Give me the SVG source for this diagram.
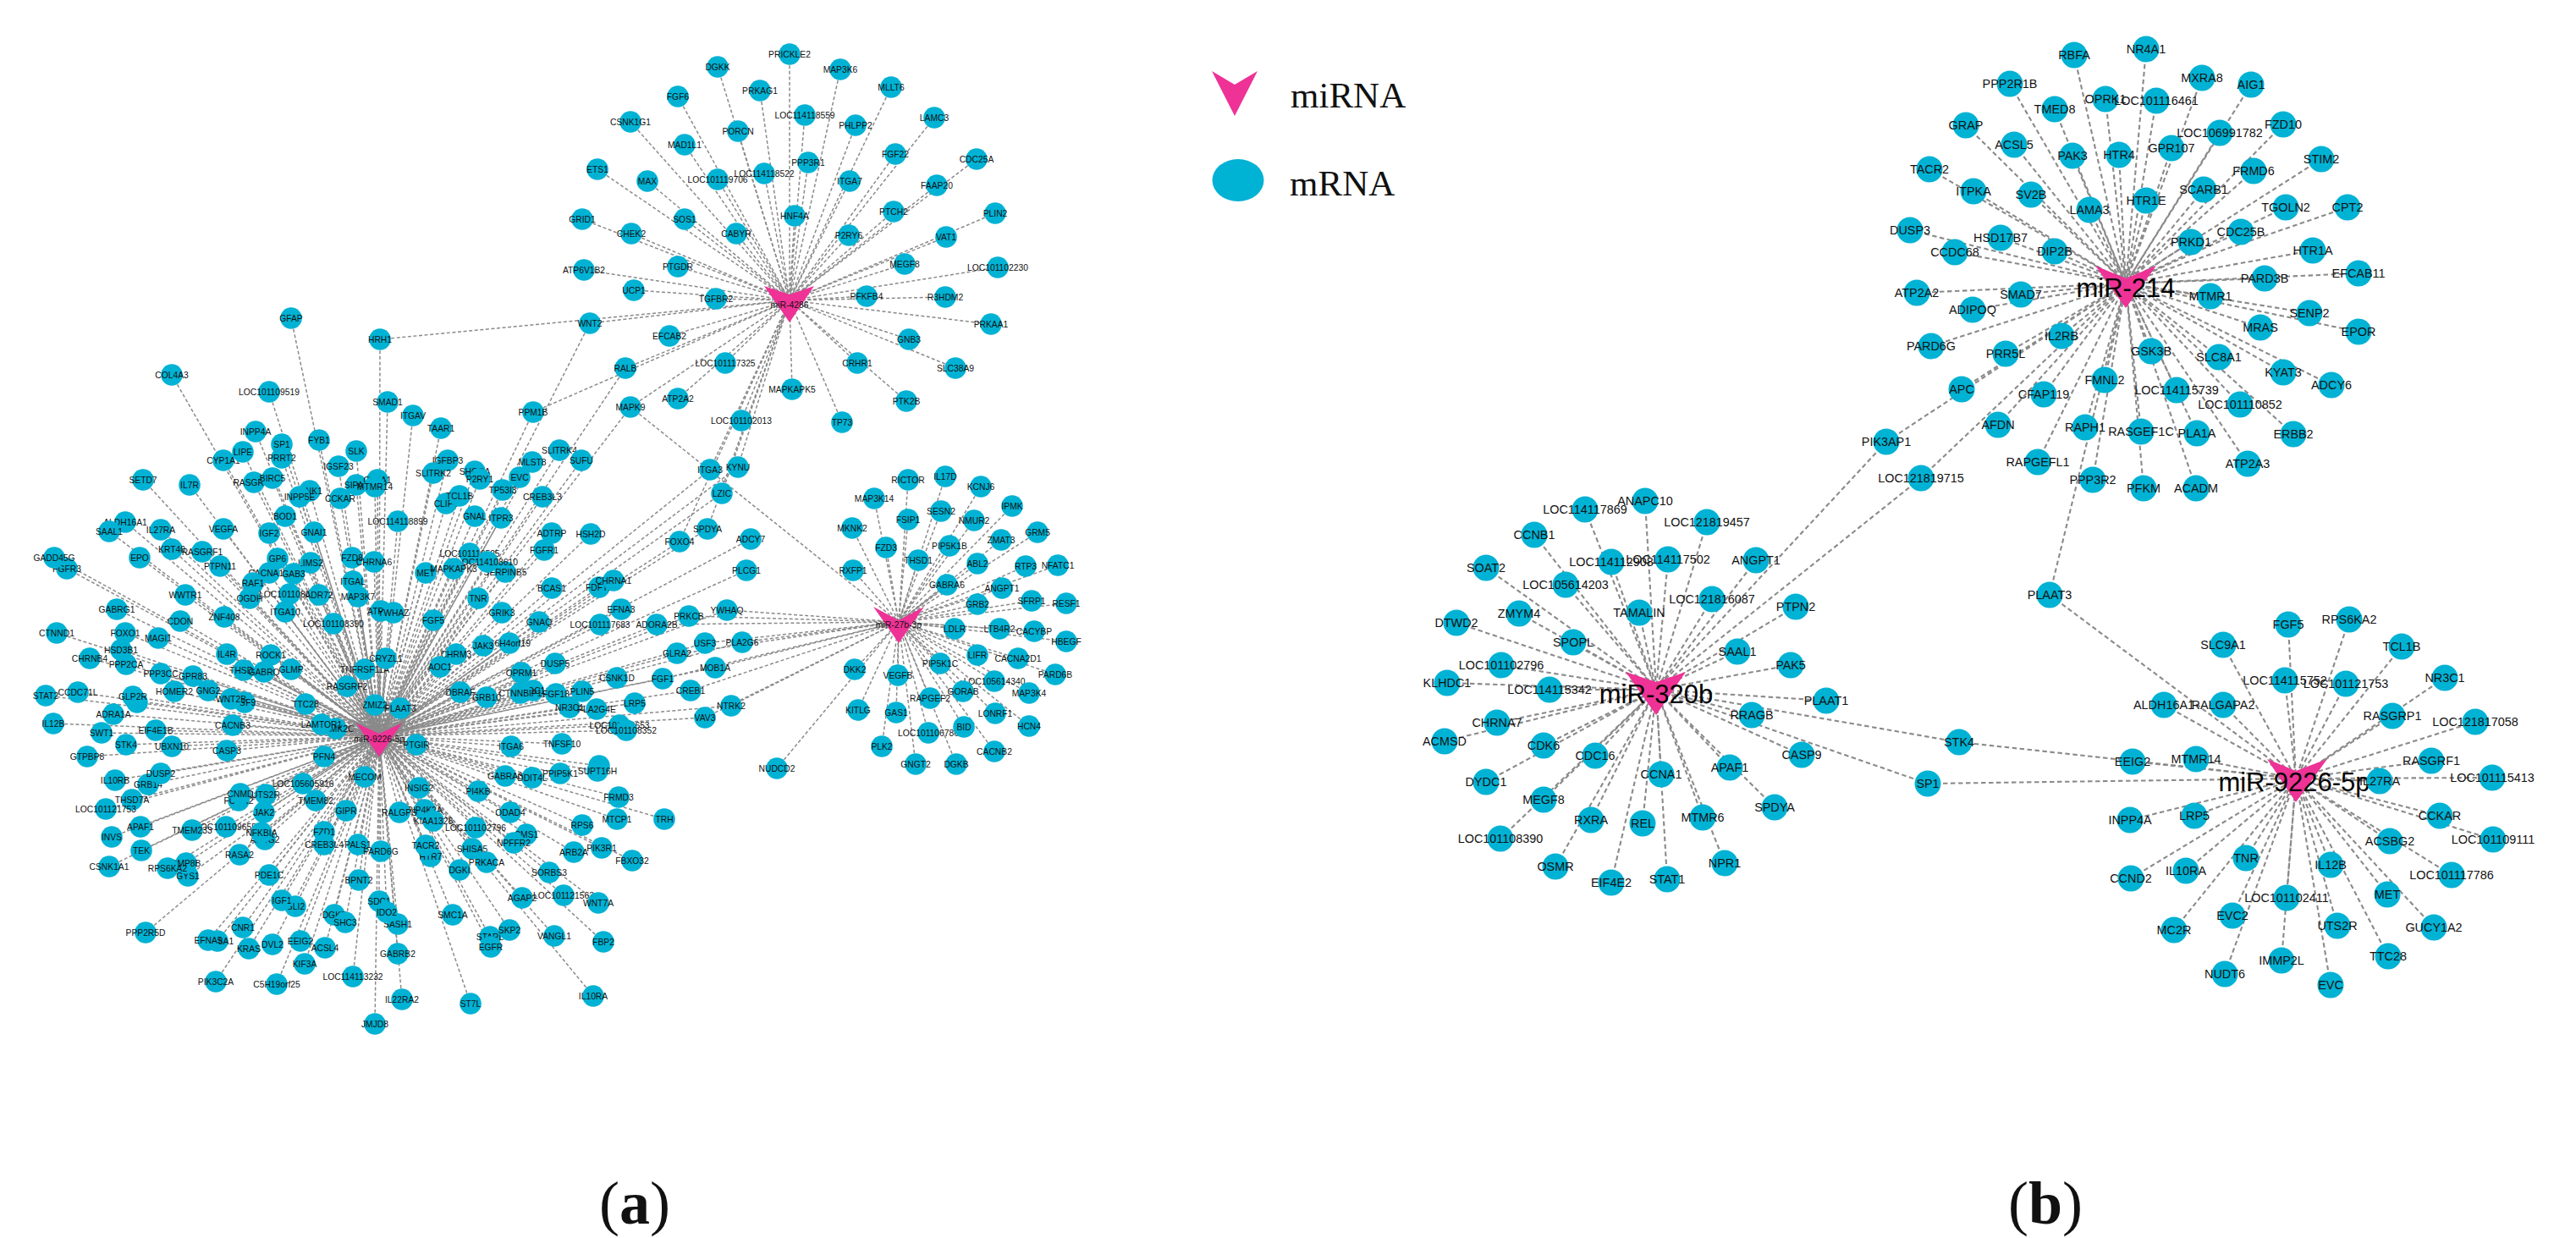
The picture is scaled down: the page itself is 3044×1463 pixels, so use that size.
<svg xmlns="http://www.w3.org/2000/svg" width="3044" height="1463" viewBox="0 0 3044 1463">
<style>
svg{background:#fff}
path{fill:none}
#connectors path{stroke:#8a8a8a}
.ea{stroke-width:1.5;stroke-dasharray:4 2.6}
.eb{stroke-width:2.1;stroke-dasharray:5.5 3.5}
circle,ellipse{fill:#00b2d4}
.hub polygon,polygon{fill:#ee3296}
text{font-family:"Liberation Sans",Arial,sans-serif;text-anchor:middle;dominant-baseline:central;fill:#111}
.a circle{r:12.8px}
.a text{font-size:10.3px}
.b circle{r:15.5px}
.b text{font-size:14.4px}
.a .hl{font-size:10.4px}
.b .hl{font-size:31px;fill:#000}
.lg{font-family:"Liberation Serif","Times New Roman",serif;font-size:43px;text-anchor:start;dominant-baseline:auto;fill:#111}
.cap{font-family:"Liberation Serif","Times New Roman",serif;font-size:72px;text-anchor:middle;dominant-baseline:auto;fill:#111}
.cap tspan{font-weight:bold}
#h9a polygon{stroke:#8a8a8a;stroke-width:2}
</style>
<g id="connectors">
<g class="ea">
<path d="M933 64L933 355"/><path d="M848 79L933 355"/><path d="M993 82L933 355"/><path d="M1053 103L933 355"/><path d="M898 107L933 355"/><path d="M801 114L933 355"/><path d="M951 136L933 355"/><path d="M1104 139L933 355"/><path d="M745 144L933 355"/><path d="M1011 148L933 355"/><path d="M872 155L933 355"/><path d="M809 171L933 355"/><path d="M1058 182L933 355"/><path d="M1154 188L933 355"/><path d="M955 192L933 355"/><path d="M706 200L933 355"/><path d="M903 205L933 355"/><path d="M848 212L933 355"/><path d="M1004 214L933 355"/><path d="M765 214L933 355"/><path d="M1107 219L933 355"/><path d="M1056 250L933 355"/><path d="M1176 252L933 355"/><path d="M939 255L933 355"/><path d="M809 259L933 355"/><path d="M688 259L933 355"/><path d="M870 276L933 355"/><path d="M746 276L933 355"/><path d="M1003 278L933 355"/><path d="M1118 280L933 355"/><path d="M1069 312L933 355"/><path d="M801 315L933 355"/><path d="M1179 316L933 355"/><path d="M690 319L933 355"/><path d="M749 343L933 355"/><path d="M1024 350L933 355"/><path d="M1117 351L933 355"/><path d="M846 353L933 355"/><path d="M697 382L933 355"/><path d="M1171 383L933 355"/><path d="M791 397L933 355"/><path d="M1074 401L933 355"/><path d="M857 429L933 355"/><path d="M1013 429L933 355"/><path d="M1129 435L933 355"/><path d="M739 435L933 355"/><path d="M936 460L933 355"/><path d="M801 471L933 355"/><path d="M1071 474L933 355"/><path d="M745 481L933 355"/><path d="M876 497L933 355"/><path d="M995 499L933 355"/><path d="M872 552L933 355"/><path d="M839 555L933 355"/><path d="M853 583L933 355"/><path d="M836 625L933 355"/><path d="M803 640L933 355"/><path d="M449 401L933 355"/><path d="M630 487L933 355"/>
<path d="M1073 567L1062 735"/><path d="M1117 563L1062 735"/><path d="M1159 575L1062 735"/><path d="M1033 589L1062 735"/><path d="M1196 598L1062 735"/><path d="M1112 604L1062 735"/><path d="M1073 614L1062 735"/><path d="M1151 615L1062 735"/><path d="M1007 624L1062 735"/><path d="M1226 629L1062 735"/><path d="M1183 638L1062 735"/><path d="M1122 645L1062 735"/><path d="M1047 647L1062 735"/><path d="M1085 662L1062 735"/><path d="M1155 666L1062 735"/><path d="M1212 669L1062 735"/><path d="M1250 668L1062 735"/><path d="M1008 674L1062 735"/><path d="M1119 691L1062 735"/><path d="M1184 695L1062 735"/><path d="M1155 714L1062 735"/><path d="M1219 710L1062 735"/><path d="M1260 713L1062 735"/><path d="M1128 743L1062 735"/><path d="M1181 743L1062 735"/><path d="M1222 746L1062 735"/><path d="M1260 758L1062 735"/><path d="M1155 774L1062 735"/><path d="M1203 778L1062 735"/><path d="M1111 784L1062 735"/><path d="M1010 791L1062 735"/><path d="M1061 798L1062 735"/><path d="M1247 797L1062 735"/><path d="M1175 805L1062 735"/><path d="M1138 817L1062 735"/><path d="M1216 819L1062 735"/><path d="M1099 825L1062 735"/><path d="M1014 839L1062 735"/><path d="M1059 842L1062 735"/><path d="M1176 843L1062 735"/><path d="M1216 858L1062 735"/><path d="M1139 859L1062 735"/><path d="M1097 866L1062 735"/><path d="M1042 882L1062 735"/><path d="M1175 888L1062 735"/><path d="M1082 903L1062 735"/><path d="M1130 903L1062 735"/><path d="M918 908L1062 735"/><path d="M745 481L1062 735"/><path d="M859 721L1062 735"/><path d="M814 728L1062 735"/><path d="M776 738L1062 735"/><path d="M833 760L1062 735"/><path d="M877 759L1062 735"/><path d="M800 773L1062 735"/><path d="M845 789L1062 735"/><path d="M783 802L1062 735"/><path d="M816 816L1062 735"/><path d="M864 834L1062 735"/><path d="M833 848L1062 735"/>
<path d="M697 382L448 870"/><path d="M739 435L448 870"/><path d="M745 481L448 870"/><path d="M839 555L448 870"/><path d="M872 552L448 870"/><path d="M853 583L448 870"/><path d="M836 625L448 870"/><path d="M803 640L448 870"/><path d="M887 637L448 870"/><path d="M882 674L448 870"/><path d="M859 721L448 870"/><path d="M814 728L448 870"/><path d="M776 738L448 870"/><path d="M833 760L448 870"/><path d="M877 759L448 870"/><path d="M800 773L448 870"/><path d="M845 789L448 870"/><path d="M783 802L448 870"/><path d="M816 816L448 870"/><path d="M864 834L448 870"/><path d="M833 848L448 870"/>
<path d="M344 376L448 870"/><path d="M449 401L448 870"/><path d="M203 443L448 870"/><path d="M318 463L448 870"/><path d="M458 475L448 870"/><path d="M488 491L448 870"/><path d="M521 506L448 870"/><path d="M630 487L448 870"/><path d="M302 510L448 870"/><path d="M377 520L448 870"/><path d="M421 533L448 870"/><path d="M264 544L448 870"/><path d="M287 534L448 870"/><path d="M333 525L448 870"/><path d="M333 541L448 870"/><path d="M400 551L448 870"/><path d="M300 570L448 870"/><path d="M322 565L448 870"/><path d="M169 567L448 870"/><path d="M224 573L448 870"/><path d="M366 580L448 870"/><path d="M354 587L448 870"/><path d="M421 573L448 870"/><path d="M446 567L448 870"/><path d="M443 575L448 870"/><path d="M402 589L448 870"/><path d="M337 610L448 870"/><path d="M371 629L448 870"/><path d="M318 630L448 870"/><path d="M148 617L448 870"/><path d="M190 626L448 870"/><path d="M264 625L448 870"/><path d="M129 628L448 870"/><path d="M203 649L448 870"/><path d="M239 652L448 870"/><path d="M165 659L448 870"/><path d="M79 672L448 870"/><path d="M64 659L448 870"/><path d="M416 659L448 870"/><path d="M328 660L448 870"/><path d="M260 669L448 870"/><path d="M367 665L448 870"/><path d="M318 677L448 870"/><path d="M347 678L448 870"/><path d="M299 689L448 870"/><path d="M417 687L448 870"/><path d="M219 703L448 870"/><path d="M295 707L448 870"/><path d="M342 702L448 870"/><path d="M377 703L448 870"/><path d="M423 705L448 870"/><path d="M138 720L448 870"/><path d="M265 729L448 870"/><path d="M337 723L448 870"/><path d="M394 737L448 870"/><path d="M213 734L448 870"/><path d="M67 748L448 870"/><path d="M148 748L448 870"/><path d="M187 754L448 870"/><path d="M143 768L448 870"/><path d="M268 773L448 870"/><path d="M320 774L448 870"/><path d="M106 778L448 870"/><path d="M149 785L448 870"/><path d="M344 791L448 870"/><path d="M288 792L448 870"/><path d="M312 794L448 870"/><path d="M190 796L448 870"/><path d="M228 799L448 870"/><path d="M431 791L448 870"/><path d="M410 811L448 870"/><path d="M246 816L448 870"/><path d="M206 817L448 870"/><path d="M273 826L448 870"/><path d="M289 830L448 870"/><path d="M54 822L448 870"/><path d="M92 818L448 870"/><path d="M157 823L448 870"/><path d="M162 830L448 870"/><path d="M361 832L448 870"/><path d="M443 833L448 870"/><path d="M473 837L448 870"/><path d="M134 844L448 870"/><path d="M380 856L448 870"/><path d="M397 861L448 870"/><path d="M63 855L448 870"/><path d="M275 857L448 870"/><path d="M120 866L448 870"/><path d="M184 863L448 870"/><path d="M149 880L448 870"/><path d="M203 882L448 870"/><path d="M268 887L448 870"/><path d="M383 894L448 870"/><path d="M103 894L448 870"/><path d="M431 918L448 870"/><path d="M190 914L448 870"/><path d="M136 922L448 870"/><path d="M175 927L448 870"/><path d="M358 926L448 870"/><path d="M314 939L448 870"/><path d="M284 938L448 870"/><path d="M282 946L448 870"/><path d="M156 945L448 870"/><path d="M373 946L448 870"/><path d="M409 958L448 870"/><path d="M125 956L448 870"/><path d="M312 960L448 870"/><path d="M267 977L448 870"/><path d="M166 977L448 870"/><path d="M227 981L448 870"/><path d="M309 984L448 870"/><path d="M132 989L448 870"/><path d="M383 983L448 870"/><path d="M313 992L448 870"/><path d="M383 998L448 870"/><path d="M423 998L448 870"/><path d="M167 1005L448 870"/><path d="M283 1010L448 870"/><path d="M220 1020L448 870"/><path d="M198 1026L448 870"/><path d="M129 1024L448 870"/><path d="M222 1035L448 870"/><path d="M318 1034L448 870"/><path d="M424 1040L448 870"/><path d="M333 1064L448 870"/><path d="M349 1071L448 870"/><path d="M448 1065L448 870"/><path d="M457 1078L448 870"/><path d="M470 1092L448 870"/><path d="M395 1081L448 870"/><path d="M408 1090L448 870"/><path d="M287 1096L448 870"/><path d="M172 1102L448 870"/><path d="M246 1111L448 870"/><path d="M257 1112L448 870"/><path d="M294 1121L448 870"/><path d="M322 1116L448 870"/><path d="M355 1112L448 870"/><path d="M384 1120L448 870"/><path d="M470 1127L448 870"/><path d="M360 1139L448 870"/><path d="M417 1154L448 870"/><path d="M255 1160L448 870"/><path d="M327 1163L448 870"/><path d="M475 1181L448 870"/><path d="M443 1210L448 870"/><path d="M556 1186L448 870"/>
<path d="M492 880L448 870"/><path d="M604 882L448 870"/><path d="M664 879L448 870"/><path d="M706 911L448 870"/><path d="M708 905L448 870"/><path d="M662 914L448 870"/><path d="M629 919L448 870"/><path d="M597 917L448 870"/><path d="M495 931L448 870"/><path d="M565 935L448 870"/><path d="M731 942L448 870"/><path d="M603 960L448 870"/><path d="M502 957L448 870"/><path d="M729 968L448 870"/><path d="M785 968L448 870"/><path d="M512 970L448 870"/><path d="M472 960L448 870"/><path d="M688 975L448 870"/><path d="M562 978L448 870"/><path d="M622 986L448 870"/><path d="M607 996L448 870"/><path d="M711 1002L448 870"/><path d="M503 999L448 870"/><path d="M509 1012L448 870"/><path d="M558 1003L448 870"/><path d="M678 1007L448 870"/><path d="M450 1006L448 870"/><path d="M747 1017L448 870"/><path d="M575 1019L448 870"/><path d="M543 1028L448 870"/><path d="M649 1031L448 870"/><path d="M617 1061L448 870"/><path d="M666 1058L448 870"/><path d="M707 1067L448 870"/><path d="M535 1081L448 870"/><path d="M602 1099L448 870"/><path d="M579 1107L448 870"/><path d="M655 1106L448 870"/><path d="M580 1119L448 870"/><path d="M713 1113L448 870"/><path d="M701 1177L448 870"/>
<path d="M661 532L448 870"/><path d="M687 544L448 870"/><path d="M529 544L448 870"/><path d="M629 546L448 870"/><path d="M512 559L448 870"/><path d="M561 557L448 870"/><path d="M614 564L448 870"/><path d="M567 566L448 870"/><path d="M594 579L448 870"/><path d="M543 586L448 870"/><path d="M641 587L448 870"/><path d="M527 595L448 870"/><path d="M561 610L448 870"/><path d="M592 612L448 870"/><path d="M470 616L448 870"/><path d="M652 630L448 870"/><path d="M698 631L448 870"/><path d="M643 650L448 870"/><path d="M555 654L448 870"/><path d="M576 664L448 870"/><path d="M597 676L448 870"/><path d="M442 664L448 870"/><path d="M503 677L448 870"/><path d="M536 672L448 870"/><path d="M652 695L448 870"/><path d="M708 694L448 870"/><path d="M725 686L448 870"/><path d="M565 707L448 870"/><path d="M734 720L448 870"/><path d="M450 722L448 870"/><path d="M465 724L448 870"/><path d="M593 724L448 870"/><path d="M512 733L448 870"/><path d="M637 735L448 870"/><path d="M709 738L448 870"/><path d="M602 760L448 870"/><path d="M571 763L448 870"/><path d="M539 773L448 870"/><path d="M456 778L448 870"/><path d="M520 788L448 870"/><path d="M656 784L448 870"/><path d="M616 795L448 870"/><path d="M729 801L448 870"/><path d="M544 818L448 870"/><path d="M575 824L448 870"/><path d="M615 819L448 870"/><path d="M630 816L448 870"/><path d="M657 820L448 870"/><path d="M688 817L448 870"/><path d="M673 836L448 870"/><path d="M705 838L448 870"/><path d="M750 831L448 870"/><path d="M732 857L448 870"/><path d="M740 863L448 870"/>
</g>
<g class="eb">
<path d="M2451 65L2512 335"/><path d="M2536 58L2512 335"/><path d="M2375 99L2512 335"/><path d="M2488 117L2512 335"/><path d="M2548 119L2512 335"/><path d="M2428 129L2512 335"/><path d="M2323 148L2512 335"/><path d="M2380 171L2512 335"/><path d="M2449 184L2512 335"/><path d="M2504 183L2512 335"/><path d="M2566 175L2512 335"/><path d="M2280 200L2512 335"/><path d="M2332 226L2512 335"/><path d="M2400 230L2512 335"/><path d="M2469 248L2512 335"/><path d="M2536 237L2512 335"/><path d="M2257 272L2512 335"/><path d="M2364 281L2512 335"/><path d="M2310 298L2512 335"/><path d="M2428 297L2512 335"/><path d="M2265 346L2512 335"/><path d="M2388 348L2512 335"/><path d="M2331 366L2512 335"/><path d="M2282 409L2512 335"/><path d="M2436 397L2512 335"/><path d="M2370 418L2512 335"/><path d="M2318 460L2512 335"/><path d="M2487 449L2512 335"/><path d="M2415 466L2512 335"/><path d="M2542 415L2512 335"/><path d="M2361 502L2512 335"/><path d="M2572 461L2512 335"/><path d="M2464 505L2512 335"/><path d="M2530 510L2512 335"/><path d="M2229 522L2512 335"/><path d="M2408 546L2512 335"/><path d="M2473 567L2512 335"/><path d="M2533 577L2512 335"/><path d="M2270 565L2512 335"/><path d="M2602 92L2512 335"/><path d="M2660 100L2512 335"/><path d="M2623 157L2512 335"/><path d="M2698 147L2512 335"/><path d="M2663 202L2512 335"/><path d="M2743 188L2512 335"/><path d="M2604 224L2512 335"/><path d="M2701 245L2512 335"/><path d="M2774 245L2512 335"/><path d="M2648 274L2512 335"/><path d="M2589 286L2512 335"/><path d="M2733 296L2512 335"/><path d="M2676 329L2512 335"/><path d="M2787 323L2512 335"/><path d="M2612 350L2512 335"/><path d="M2729 370L2512 335"/><path d="M2671 387L2512 335"/><path d="M2787 392L2512 335"/><path d="M2622 422L2512 335"/><path d="M2698 440L2512 335"/><path d="M2755 455L2512 335"/><path d="M2647 478L2512 335"/><path d="M2710 513L2512 335"/><path d="M2596 512L2512 335"/><path d="M2656 548L2512 335"/><path d="M2595 577L2512 335"/><path d="M2422 703L2512 335"/>
<path d="M2229 522L1957 815"/><path d="M2270 565L1957 815"/><path d="M1944 592L1957 815"/><path d="M1873 602L1957 815"/><path d="M2017 617L1957 815"/><path d="M1813 632L1957 815"/><path d="M1904 664L1957 815"/><path d="M1971 661L1957 815"/><path d="M2075 662L1957 815"/><path d="M1756 671L1957 815"/><path d="M1850 691L1957 815"/><path d="M2023 708L1957 815"/><path d="M1937 724L1957 815"/><path d="M2122 717L1957 815"/><path d="M1795 725L1957 815"/><path d="M1721 736L1957 815"/><path d="M1859 759L1957 815"/><path d="M2053 770L1957 815"/><path d="M2116 786L1957 815"/><path d="M1774 786L1957 815"/><path d="M1710 807L1957 815"/><path d="M1831 815L1957 815"/><path d="M2158 828L1957 815"/><path d="M2070 845L1957 815"/><path d="M1769 854L1957 815"/><path d="M1707 876L1957 815"/><path d="M1824 881L1957 815"/><path d="M2129 892L1957 815"/><path d="M1885 893L1957 815"/><path d="M2044 907L1957 815"/><path d="M1963 915L1957 815"/><path d="M1756 924L1957 815"/><path d="M2278 926L1957 815"/><path d="M2315 877L1957 815"/><path d="M1824 945L1957 815"/><path d="M2097 954L1957 815"/><path d="M1880 969L1957 815"/><path d="M1941 973L1957 815"/><path d="M2012 966L1957 815"/><path d="M1773 991L1957 815"/><path d="M2038 1020L1957 815"/><path d="M1838 1024L1957 815"/><path d="M1970 1039L1957 815"/><path d="M1904 1043L1957 815"/>
<path d="M2422 703L2713 920"/><path d="M2315 877L2713 920"/><path d="M2278 926L2713 920"/><path d="M2704 738L2713 920"/><path d="M2776 732L2713 920"/><path d="M2627 762L2713 920"/><path d="M2838 764L2713 920"/><path d="M2889 801L2713 920"/><path d="M2700 804L2713 920"/><path d="M2772 808L2713 920"/><path d="M2557 833L2713 920"/><path d="M2627 833L2713 920"/><path d="M2827 846L2713 920"/><path d="M2925 853L2713 920"/><path d="M2520 900L2713 920"/><path d="M2595 897L2713 920"/><path d="M2873 899L2713 920"/><path d="M2812 923L2713 920"/><path d="M2945 919L2713 920"/><path d="M2517 969L2713 920"/><path d="M2593 964L2713 920"/><path d="M2883 964L2713 920"/><path d="M2946 992L2713 920"/><path d="M2824 994L2713 920"/><path d="M2654 1014L2713 920"/><path d="M2583 1029L2713 920"/><path d="M2518 1038L2713 920"/><path d="M2754 1022L2713 920"/><path d="M2897 1034L2713 920"/><path d="M2821 1057L2713 920"/><path d="M2702 1061L2713 920"/><path d="M2638 1082L2713 920"/><path d="M2762 1094L2713 920"/><path d="M2876 1096L2713 920"/><path d="M2569 1099L2713 920"/><path d="M2696 1135L2713 920"/><path d="M2822 1130L2713 920"/><path d="M2629 1151L2713 920"/><path d="M2754 1164L2713 920"/>
</g>
</g>
<g id="nodesA" class="a">
<g id="h4a"><polygon points="903,338 933,348 962,338 933,381"/><text class="hl" x="933" y="360">miR-4286</text></g>
<g id="h7a"><polygon points="1032,717 1062,733 1092,717 1062,760"/><text class="hl" x="1062" y="738">miR-27b-3p</text></g>
<g id="h9a"><polygon points="418,852 448,866 478,852 448,896"/><text class="hl" x="448" y="873">miR-9226-5p</text></g>
<g id="a1"><circle cx="933" cy="64"/><text x="933" y="64">PRICKLE2</text></g>
<g id="a2"><circle cx="848" cy="79"/><text x="848" y="79">DGKK</text></g>
<g id="a3"><circle cx="993" cy="82"/><text x="993" y="82">MAP3K6</text></g>
<g id="a4"><circle cx="1053" cy="103"/><text x="1053" y="103">MLLT6</text></g>
<g id="a5"><circle cx="898" cy="107"/><text x="898" y="107">PRKAG1</text></g>
<g id="a6"><circle cx="801" cy="114"/><text x="801" y="114">FGF6</text></g>
<g id="a7"><circle cx="951" cy="136"/><text x="951" y="136">LOC114118559</text></g>
<g id="a8"><circle cx="1104" cy="139"/><text x="1104" y="139">LAMC3</text></g>
<g id="a9"><circle cx="745" cy="144"/><text x="745" y="144">CSNK1G1</text></g>
<g id="a10"><circle cx="1011" cy="148"/><text x="1011" y="148">PHLPP2</text></g>
<g id="a11"><circle cx="872" cy="155"/><text x="872" y="155">PORCN</text></g>
<g id="a12"><circle cx="809" cy="171"/><text x="809" y="171">MAD1L1</text></g>
<g id="a13"><circle cx="1058" cy="182"/><text x="1058" y="182">FGF22</text></g>
<g id="a14"><circle cx="1154" cy="188"/><text x="1154" y="188">CDC25A</text></g>
<g id="a15"><circle cx="955" cy="192"/><text x="955" y="192">PPP3R1</text></g>
<g id="a16"><circle cx="706" cy="200"/><text x="706" y="200">ETS1</text></g>
<g id="a17"><circle cx="848" cy="212"/><text x="848" y="212">LOC101119706</text></g>
<g id="a18"><circle cx="903" cy="205"/><text x="903" y="205">LOC114118522</text></g>
<g id="a19"><circle cx="1004" cy="214"/><text x="1004" y="214">ITGA7</text></g>
<g id="a20"><circle cx="765" cy="214"/><text x="765" y="214">MAX</text></g>
<g id="a21"><circle cx="1107" cy="219"/><text x="1107" y="219">FAAP20</text></g>
<g id="a22"><circle cx="1056" cy="250"/><text x="1056" y="250">PTCH2</text></g>
<g id="a23"><circle cx="1176" cy="252"/><text x="1176" y="252">PLIN2</text></g>
<g id="a24"><circle cx="939" cy="255"/><text x="939" y="255">HNF4A</text></g>
<g id="a25"><circle cx="809" cy="259"/><text x="809" y="259">SOS1</text></g>
<g id="a26"><circle cx="688" cy="259"/><text x="688" y="259">GRID1</text></g>
<g id="a27"><circle cx="870" cy="276"/><text x="870" y="276">CABYR</text></g>
<g id="a28"><circle cx="746" cy="276"/><text x="746" y="276">CHEK2</text></g>
<g id="a29"><circle cx="1003" cy="278"/><text x="1003" y="278">P2RY6</text></g>
<g id="a30"><circle cx="1118" cy="280"/><text x="1118" y="280">VAT1</text></g>
<g id="a31"><circle cx="1069" cy="312"/><text x="1069" y="312">MEGF8</text></g>
<g id="a32"><circle cx="801" cy="315"/><text x="801" y="315">PTGDR</text></g>
<g id="a33"><circle cx="1179" cy="316"/><text x="1179" y="316">LOC101102230</text></g>
<g id="a34"><circle cx="690" cy="319"/><text x="690" y="319">ATP6V1B2</text></g>
<g id="a35"><circle cx="749" cy="343"/><text x="749" y="343">UCP1</text></g>
<g id="a36"><circle cx="1024" cy="350"/><text x="1024" y="350">PFKFB4</text></g>
<g id="a37"><circle cx="1117" cy="351"/><text x="1117" y="351">R3HDM2</text></g>
<g id="a38"><circle cx="846" cy="353"/><text x="846" y="353">TGFBR2</text></g>
<g id="a39"><circle cx="697" cy="382"/><text x="697" y="382">WNT2</text></g>
<g id="a40"><circle cx="1171" cy="383"/><text x="1171" y="383">PRKAA1</text></g>
<g id="a41"><circle cx="791" cy="397"/><text x="791" y="397">EFCAB2</text></g>
<g id="a42"><circle cx="1074" cy="401"/><text x="1074" y="401">GNB3</text></g>
<g id="a43"><circle cx="857" cy="429"/><text x="857" y="429">LOC101117325</text></g>
<g id="a44"><circle cx="1013" cy="429"/><text x="1013" y="429">CRHR1</text></g>
<g id="a45"><circle cx="1129" cy="435"/><text x="1129" y="435">SLC38A9</text></g>
<g id="a46"><circle cx="739" cy="435"/><text x="739" y="435">RALB</text></g>
<g id="a47"><circle cx="936" cy="460"/><text x="936" y="460">MAPKAPK5</text></g>
<g id="a48"><circle cx="801" cy="471"/><text x="801" y="471">ATP2A2</text></g>
<g id="a49"><circle cx="1071" cy="474"/><text x="1071" y="474">PTK2B</text></g>
<g id="a50"><circle cx="745" cy="481"/><text x="745" y="481">MAPK9</text></g>
<g id="a51"><circle cx="876" cy="497"/><text x="876" y="497">LOC101102013</text></g>
<g id="a52"><circle cx="995" cy="499"/><text x="995" y="499">TP73</text></g>
<g id="a53"><circle cx="872" cy="552"/><text x="872" y="552">KYNU</text></g>
<g id="a54"><circle cx="839" cy="555"/><text x="839" y="555">ITGA3</text></g>
<g id="a55"><circle cx="853" cy="583"/><text x="853" y="583">LZIC</text></g>
<g id="a56"><circle cx="836" cy="625"/><text x="836" y="625">SPDYA</text></g>
<g id="a57"><circle cx="803" cy="640"/><text x="803" y="640">FOXO4</text></g>
<g id="a58"><circle cx="887" cy="637"/><text x="887" y="637">ADCY7</text></g>
<g id="a59"><circle cx="882" cy="674"/><text x="882" y="674">PLCG1</text></g>
<g id="a60"><circle cx="859" cy="721"/><text x="859" y="721">YWHAQ</text></g>
<g id="a61"><circle cx="776" cy="738"/><text x="776" y="738">ADORA2B</text></g>
<g id="a62"><circle cx="814" cy="728"/><text x="814" y="728">PRKCB</text></g>
<g id="a63"><circle cx="833" cy="760"/><text x="833" y="760">USF3</text></g>
<g id="a64"><circle cx="877" cy="759"/><text x="877" y="759">PLA2G6</text></g>
<g id="a65"><circle cx="800" cy="772"/><text x="800" y="772">GLRA2</text></g>
<g id="a66"><circle cx="845" cy="789"/><text x="845" y="789">MOB1A</text></g>
<g id="a67"><circle cx="783" cy="802"/><text x="783" y="802">FGF1</text></g>
<g id="a68"><circle cx="816" cy="816"/><text x="816" y="816">CREB1</text></g>
<g id="a69"><circle cx="864" cy="834"/><text x="864" y="834">NTRK2</text></g>
<g id="a70"><circle cx="833" cy="848"/><text x="833" y="848">VAV3</text></g>
<g id="a71"><circle cx="918" cy="908"/><text x="918" y="908">NUDCD2</text></g>
<g id="a72"><circle cx="1073" cy="567"/><text x="1073" y="567">RICTOR</text></g>
<g id="a73"><circle cx="1117" cy="563"/><text x="1117" y="563">IL17D</text></g>
<g id="a74"><circle cx="1159" cy="575"/><text x="1159" y="575">KCNJ6</text></g>
<g id="a75"><circle cx="1033" cy="589"/><text x="1033" y="589">MAP3K14</text></g>
<g id="a76"><circle cx="1196" cy="598"/><text x="1196" y="598">IPMK</text></g>
<g id="a77"><circle cx="1112" cy="604"/><text x="1112" y="604">SESN2</text></g>
<g id="a78"><circle cx="1073" cy="614"/><text x="1073" y="614">FSIP1</text></g>
<g id="a79"><circle cx="1151" cy="615"/><text x="1151" y="615">NMUR2</text></g>
<g id="a80"><circle cx="1007" cy="624"/><text x="1007" y="624">MKNK2</text></g>
<g id="a81"><circle cx="1226" cy="629"/><text x="1226" y="629">GRM5</text></g>
<g id="a82"><circle cx="1183" cy="638"/><text x="1183" y="638">ZMAT3</text></g>
<g id="a83"><circle cx="1122" cy="645"/><text x="1122" y="645">PIP5K1B</text></g>
<g id="a84"><circle cx="1047" cy="647"/><text x="1047" y="647">FZD3</text></g>
<g id="a85"><circle cx="1085" cy="662"/><text x="1085" y="662">THSD1</text></g>
<g id="a86"><circle cx="1155" cy="666"/><text x="1155" y="666">ABL2</text></g>
<g id="a87"><circle cx="1212" cy="669"/><text x="1212" y="669">RTP3</text></g>
<g id="a88"><circle cx="1250" cy="668"/><text x="1250" y="668">NFATC1</text></g>
<g id="a89"><circle cx="1008" cy="674"/><text x="1008" y="674">RXFP1</text></g>
<g id="a90"><circle cx="1119" cy="691"/><text x="1119" y="691">GABRA6</text></g>
<g id="a91"><circle cx="1184" cy="695"/><text x="1184" y="695">ANGPT1</text></g>
<g id="a92"><circle cx="1155" cy="714"/><text x="1155" y="714">GRB2</text></g>
<g id="a93"><circle cx="1219" cy="710"/><text x="1219" y="710">SFRP1</text></g>
<g id="a94"><circle cx="1260" cy="713"/><text x="1260" y="713">RESF1</text></g>
<g id="a95"><circle cx="1128" cy="743"/><text x="1128" y="743">LDLR</text></g>
<g id="a96"><circle cx="1181" cy="743"/><text x="1181" y="743">LTB4R2</text></g>
<g id="a97"><circle cx="1222" cy="746"/><text x="1222" y="746">CACYBP</text></g>
<g id="a98"><circle cx="1260" cy="758"/><text x="1260" y="758">HBEGF</text></g>
<g id="a99"><circle cx="1155" cy="774"/><text x="1155" y="774">LIFR</text></g>
<g id="a100"><circle cx="1203" cy="778"/><text x="1203" y="778">CACNA2D1</text></g>
<g id="a101"><circle cx="1111" cy="784"/><text x="1111" y="784">PIP5K1C</text></g>
<g id="a102"><circle cx="1010" cy="791"/><text x="1010" y="791">DKK2</text></g>
<g id="a103"><circle cx="1061" cy="798"/><text x="1061" y="798">VEGFB</text></g>
<g id="a104"><circle cx="1247" cy="797"/><text x="1247" y="797">PARD6B</text></g>
<g id="a105"><circle cx="1175" cy="805"/><text x="1175" y="805">LOC105614340</text></g>
<g id="a106"><circle cx="1138" cy="817"/><text x="1138" y="817">GORAB</text></g>
<g id="a107"><circle cx="1216" cy="819"/><text x="1216" y="819">MAP3K4</text></g>
<g id="a108"><circle cx="1099" cy="825"/><text x="1099" y="825">RAPGEF2</text></g>
<g id="a109"><circle cx="1014" cy="839"/><text x="1014" y="839">KITLG</text></g>
<g id="a110"><circle cx="1059" cy="842"/><text x="1059" y="842">GAS1</text></g>
<g id="a111"><circle cx="1176" cy="843"/><text x="1176" y="843">LONRF1</text></g>
<g id="a112"><circle cx="1216" cy="858"/><text x="1216" y="858">HCN4</text></g>
<g id="a113"><circle cx="1097" cy="866"/><text x="1097" y="866">LOC101106786</text></g>
<g id="a114"><circle cx="1139" cy="859"/><text x="1139" y="859">BID</text></g>
<g id="a115"><circle cx="1042" cy="882"/><text x="1042" y="882">PLK2</text></g>
<g id="a116"><circle cx="1175" cy="888"/><text x="1175" y="888">CACNB2</text></g>
<g id="a117"><circle cx="1082" cy="903"/><text x="1082" y="903">GNGT2</text></g>
<g id="a118"><circle cx="1130" cy="903"/><text x="1130" y="903">DGKB</text></g>
<g id="a119"><circle cx="344" cy="376"/><text x="344" y="376">GFAP</text></g>
<g id="a120"><circle cx="449" cy="401"/><text x="449" y="401">HRH1</text></g>
<g id="a121"><circle cx="203" cy="443"/><text x="203" y="443">COL4A3</text></g>
<g id="a122"><circle cx="318" cy="463"/><text x="318" y="463">LOC101109519</text></g>
<g id="a123"><circle cx="458" cy="475"/><text x="458" y="475">SMAD1</text></g>
<g id="a124"><circle cx="488" cy="491"/><text x="488" y="491">ITGAV</text></g>
<g id="a125"><circle cx="521" cy="506"/><text x="521" y="506">TAAR1</text></g>
<g id="a126"><circle cx="630" cy="487"/><text x="630" y="487">PPM1B</text></g>
<g id="a127"><circle cx="302" cy="510"/><text x="302" y="510">INPP4A</text></g>
<g id="a128"><circle cx="377" cy="520"/><text x="377" y="520">FYB1</text></g>
<g id="a129"><circle cx="421" cy="533"/><text x="421" y="533">SLK</text></g>
<g id="a130"><circle cx="264" cy="544"/><text x="264" y="544">CYP1A1</text></g>
<g id="a131"><circle cx="287" cy="534"/><text x="287" y="534">LIPE</text></g>
<g id="a132"><circle cx="333" cy="525"/><text x="333" y="525">SP1</text></g>
<g id="a133"><circle cx="333" cy="541"/><text x="333" y="541">PRRT2</text></g>
<g id="a134"><circle cx="400" cy="551"/><text x="400" y="551">IGSF23</text></g>
<g id="a135"><circle cx="300" cy="570"/><text x="300" y="570">RASGRP3</text></g>
<g id="a136"><circle cx="322" cy="565"/><text x="322" y="565">BIRC5</text></g>
<g id="a137"><circle cx="169" cy="567"/><text x="169" y="567">SETD7</text></g>
<g id="a138"><circle cx="224" cy="573"/><text x="224" y="573">IL7R</text></g>
<g id="a139"><circle cx="366" cy="580"/><text x="366" y="580">PINK1</text></g>
<g id="a140"><circle cx="354" cy="587"/><text x="354" y="587">INPP5E</text></g>
<g id="a141"><circle cx="421" cy="573"/><text x="421" y="573">SIPA1</text></g>
<g id="a142"><circle cx="446" cy="567"/><text x="446" y="567">CLCA1</text></g>
<g id="a143"><circle cx="443" cy="575"/><text x="443" y="575">MTMR14</text></g>
<g id="a144"><circle cx="402" cy="589"/><text x="402" y="589">CCKAR</text></g>
<g id="a145"><circle cx="337" cy="610"/><text x="337" y="610">BOD1</text></g>
<g id="a146"><circle cx="371" cy="629"/><text x="371" y="629">GNAI1</text></g>
<g id="a147"><circle cx="318" cy="630"/><text x="318" y="630">IGF2</text></g>
<g id="a148"><circle cx="148" cy="617"/><text x="148" y="617">ALDH16A1</text></g>
<g id="a149"><circle cx="190" cy="626"/><text x="190" y="626">IL27RA</text></g>
<g id="a150"><circle cx="264" cy="625"/><text x="264" y="625">VEGFA</text></g>
<g id="a151"><circle cx="129" cy="628"/><text x="129" y="628">SAAL1</text></g>
<g id="a152"><circle cx="203" cy="649"/><text x="203" y="649">KRT40</text></g>
<g id="a153"><circle cx="239" cy="652"/><text x="239" y="652">RASGRF1</text></g>
<g id="a154"><circle cx="165" cy="659"/><text x="165" y="659">EPO</text></g>
<g id="a155"><circle cx="79" cy="672"/><text x="79" y="672">FGFR3</text></g>
<g id="a156"><circle cx="64" cy="659"/><text x="64" y="659">GADD45G</text></g>
<g id="a157"><circle cx="416" cy="659"/><text x="416" y="659">FZD8</text></g>
<g id="a158"><circle cx="328" cy="660"/><text x="328" y="660">GP6</text></g>
<g id="a159"><circle cx="260" cy="669"/><text x="260" y="669">PTPN11</text></g>
<g id="a160"><circle cx="367" cy="665"/><text x="367" y="665">LIMS2</text></g>
<g id="a161"><circle cx="318" cy="677"/><text x="318" y="677">CACNA1C</text></g>
<g id="a162"><circle cx="347" cy="678"/><text x="347" y="678">GAB3</text></g>
<g id="a163"><circle cx="295" cy="707"/><text x="295" y="707">OGDH</text></g>
<g id="a164"><circle cx="299" cy="689"/><text x="299" y="689">RAF1</text></g>
<g id="a165"><circle cx="417" cy="687"/><text x="417" y="687">ITGAL</text></g>
<g id="a166"><circle cx="219" cy="703"/><text x="219" y="703">WWTR1</text></g>
<g id="a167"><circle cx="342" cy="702"/><text x="342" y="702">LOC101108001</text></g>
<g id="a168"><circle cx="377" cy="703"/><text x="377" y="703">ADR72</text></g>
<g id="a169"><circle cx="423" cy="705"/><text x="423" y="705">MAP3K7</text></g>
<g id="a170"><circle cx="138" cy="720"/><text x="138" y="720">GABRG1</text></g>
<g id="a171"><circle cx="265" cy="729"/><text x="265" y="729">ZNF408</text></g>
<g id="a172"><circle cx="337" cy="723"/><text x="337" y="723">ITGA10</text></g>
<g id="a173"><circle cx="394" cy="737"/><text x="394" y="737">LOC101108390</text></g>
<g id="a174"><circle cx="213" cy="734"/><text x="213" y="734">CDON</text></g>
<g id="a175"><circle cx="67" cy="748"/><text x="67" y="748">CTNND1</text></g>
<g id="a176"><circle cx="148" cy="748"/><text x="148" y="748">FOXO1</text></g>
<g id="a177"><circle cx="187" cy="754"/><text x="187" y="754">MAGI1</text></g>
<g id="a178"><circle cx="143" cy="768"/><text x="143" y="768">HSD3B1</text></g>
<g id="a179"><circle cx="268" cy="773"/><text x="268" y="773">IL4R</text></g>
<g id="a180"><circle cx="320" cy="774"/><text x="320" y="774">ROCK1</text></g>
<g id="a181"><circle cx="106" cy="778"/><text x="106" y="778">CHRNB4</text></g>
<g id="a182"><circle cx="149" cy="785"/><text x="149" y="785">PPP2CA</text></g>
<g id="a183"><circle cx="344" cy="791"/><text x="344" y="791">GLMP</text></g>
<g id="a184"><circle cx="288" cy="792"/><text x="288" y="792">THSD4</text></g>
<g id="a185"><circle cx="312" cy="794"/><text x="312" y="794">GABRQ</text></g>
<g id="a186"><circle cx="190" cy="796"/><text x="190" y="796">PPP3CC</text></g>
<g id="a187"><circle cx="228" cy="799"/><text x="228" y="799">GPR83</text></g>
<g id="a188"><circle cx="431" cy="791"/><text x="431" y="791">TNFRSF11A</text></g>
<g id="a189"><circle cx="410" cy="811"/><text x="410" y="811">RASGRF2</text></g>
<g id="a190"><circle cx="246" cy="816"/><text x="246" y="816">GNG2</text></g>
<g id="a191"><circle cx="206" cy="817"/><text x="206" y="817">HOMER2</text></g>
<g id="a192"><circle cx="289" cy="830"/><text x="289" y="830">FGF9</text></g>
<g id="a193"><circle cx="273" cy="826"/><text x="273" y="826">WNT2B</text></g>
<g id="a194"><circle cx="54" cy="822"/><text x="54" y="822">STAT2</text></g>
<g id="a195"><circle cx="92" cy="818"/><text x="92" y="818">CCDC71L</text></g>
<g id="a196"><circle cx="162" cy="830"/></g>
<g id="a197"><circle cx="157" cy="823"/><text x="157" y="823">GLP2R</text></g>
<g id="a198"><circle cx="361" cy="832"/><text x="361" y="832">TTC28</text></g>
<g id="a199"><circle cx="443" cy="833"/><text x="443" y="833">ZMIZ2</text></g>
<g id="a200"><circle cx="473" cy="837"/><text x="473" y="837">PLAAT3</text></g>
<g id="a201"><circle cx="134" cy="844"/><text x="134" y="844">ADRA1A</text></g>
<g id="a202"><circle cx="397" cy="861"/><text x="397" y="861">CAMK2C</text></g>
<g id="a203"><circle cx="380" cy="856"/><text x="380" y="856">LAMTOR1</text></g>
<g id="a204"><circle cx="63" cy="855"/><text x="63" y="855">IL12B</text></g>
<g id="a205"><circle cx="275" cy="857"/><text x="275" y="857">CACNB3</text></g>
<g id="a206"><circle cx="120" cy="866"/><text x="120" y="866">SWT1</text></g>
<g id="a207"><circle cx="184" cy="863"/><text x="184" y="863">EIF4E1B</text></g>
<g id="a208"><circle cx="149" cy="880"/><text x="149" y="880">STK4</text></g>
<g id="a209"><circle cx="203" cy="882"/><text x="203" y="882">UBXN10</text></g>
<g id="a210"><circle cx="268" cy="887"/><text x="268" y="887">CASP3</text></g>
<g id="a211"><circle cx="383" cy="894"/><text x="383" y="894">PFN4</text></g>
<g id="a212"><circle cx="103" cy="894"/><text x="103" y="894">GTPBP8</text></g>
<g id="a213"><circle cx="431" cy="918"/><text x="431" y="918">MECOM</text></g>
<g id="a214"><circle cx="175" cy="927"/><text x="175" y="927">GRB14</text></g>
<g id="a215"><circle cx="190" cy="914"/><text x="190" y="914">DUSP2</text></g>
<g id="a216"><circle cx="136" cy="922"/><text x="136" y="922">IL10RB</text></g>
<g id="a217"><circle cx="358" cy="926"/><text x="358" y="926">LOC105605916</text></g>
<g id="a218"><circle cx="282" cy="946"/><text x="282" y="946">FCGR2</text></g>
<g id="a219"><circle cx="284" cy="938"/><text x="284" y="938">CNMD</text></g>
<g id="a220"><circle cx="314" cy="939"/><text x="314" y="939">UTS2R</text></g>
<g id="a221"><circle cx="156" cy="945"/><text x="156" y="945">THSD7A</text></g>
<g id="a222"><circle cx="373" cy="946"/><text x="373" y="946">TMEM82</text></g>
<g id="a223"><circle cx="409" cy="958"/><text x="409" y="958">GIPR</text></g>
<g id="a224"><circle cx="125" cy="956"/><text x="125" y="956">LOC101121753</text></g>
<g id="a225"><circle cx="312" cy="960"/><text x="312" y="960">JAK2</text></g>
<g id="a226"><circle cx="267" cy="977"/><text x="267" y="977">LOC101109655</text></g>
<g id="a227"><circle cx="166" cy="977"/><text x="166" y="977">APAF1</text></g>
<g id="a228"><circle cx="227" cy="981"/><text x="227" y="981">TMEM233</text></g>
<g id="a229"><circle cx="313" cy="992"/><text x="313" y="992">ABCG2</text></g>
<g id="a230"><circle cx="309" cy="984"/><text x="309" y="984">NFKBIA</text></g>
<g id="a231"><circle cx="132" cy="989"/><text x="132" y="989">INVS</text></g>
<g id="a232"><circle cx="383" cy="983"/><text x="383" y="983">FZD1</text></g>
<g id="a233"><circle cx="383" cy="998"/><text x="383" y="998">CREB3L4</text></g>
<g id="a234"><circle cx="423" cy="998"/><text x="423" y="998">PALS1</text></g>
<g id="a235"><circle cx="167" cy="1005"/><text x="167" y="1005">TEK</text></g>
<g id="a236"><circle cx="283" cy="1010"/><text x="283" y="1010">RASA2</text></g>
<g id="a237"><circle cx="222" cy="1035"/><text x="222" y="1035">GYS1</text></g>
<g id="a238"><circle cx="220" cy="1020"/><text x="220" y="1020">BMP8B</text></g>
<g id="a239"><circle cx="198" cy="1026"/><text x="198" y="1026">RPS6KA2</text></g>
<g id="a240"><circle cx="129" cy="1024"/><text x="129" y="1024">CSNK1A1</text></g>
<g id="a241"><circle cx="318" cy="1034"/><text x="318" y="1034">PDE1C</text></g>
<g id="a242"><circle cx="424" cy="1040"/><text x="424" y="1040">BPNT2</text></g>
<g id="a243"><circle cx="349" cy="1071"/><text x="349" y="1071">GLI2</text></g>
<g id="a244"><circle cx="333" cy="1064"/><text x="333" y="1064">IGF1</text></g>
<g id="a245"><circle cx="448" cy="1065"/><text x="448" y="1065">SDC1</text></g>
<g id="a246"><circle cx="470" cy="1092"/><text x="470" y="1092">SASH1</text></g>
<g id="a247"><circle cx="457" cy="1078"/><text x="457" y="1078">IDO2</text></g>
<g id="a248"><circle cx="395" cy="1081"/><text x="395" y="1081">DGKZ</text></g>
<g id="a249"><circle cx="408" cy="1090"/><text x="408" y="1090">SHC3</text></g>
<g id="a250"><circle cx="287" cy="1096"/><text x="287" y="1096">CNR1</text></g>
<g id="a251"><circle cx="172" cy="1102"/><text x="172" y="1102">PPP2R5D</text></g>
<g id="a252"><circle cx="257" cy="1112"/><text x="257" y="1112">SLC8A1</text></g>
<g id="a253"><circle cx="246" cy="1111"/><text x="246" y="1111">EFNA5</text></g>
<g id="a254"><circle cx="294" cy="1121"/><text x="294" y="1121">KRAS</text></g>
<g id="a255"><circle cx="322" cy="1116"/><text x="322" y="1116">DVL2</text></g>
<g id="a256"><circle cx="355" cy="1112"/><text x="355" y="1112">EEIG2</text></g>
<g id="a257"><circle cx="384" cy="1120"/><text x="384" y="1120">ACSL4</text></g>
<g id="a258"><circle cx="470" cy="1127"/><text x="470" y="1127">GABRB2</text></g>
<g id="a259"><circle cx="360" cy="1139"/><text x="360" y="1139">KIF3A</text></g>
<g id="a260"><circle cx="417" cy="1154"/><text x="417" y="1154">LOC114113232</text></g>
<g id="a261"><circle cx="255" cy="1160"/><text x="255" y="1160">PIK3C2A</text></g>
<g id="a262"><circle cx="327" cy="1163"/><text x="327" y="1163">C5H19orf25</text></g>
<g id="a263"><circle cx="475" cy="1181"/><text x="475" y="1181">IL22RA2</text></g>
<g id="a264"><circle cx="443" cy="1210"/><text x="443" y="1210">JMJD8</text></g>
<g id="a265"><circle cx="556" cy="1186"/><text x="556" y="1186">ST7L</text></g>
<g id="a266"><circle cx="492" cy="880"/><text x="492" y="880">PTGIR</text></g>
<g id="a267"><circle cx="604" cy="882"/><text x="604" y="882">ITGA6</text></g>
<g id="a268"><circle cx="664" cy="879"/><text x="664" y="879">TNFSF10</text></g>
<g id="a269"><circle cx="708" cy="905"/></g>
<g id="a270"><circle cx="706" cy="911"/><text x="706" y="911">SUPT16H</text></g>
<g id="a271"><circle cx="597" cy="917"/><text x="597" y="917">GABRA3</text></g>
<g id="a272"><circle cx="629" cy="919"/><text x="629" y="919">DDIT4L</text></g>
<g id="a273"><circle cx="662" cy="914"/><text x="662" y="914">PPIP5K1</text></g>
<g id="a274"><circle cx="495" cy="931"/><text x="495" y="931">INSIG2</text></g>
<g id="a275"><circle cx="565" cy="935"/><text x="565" y="935">PI4KB</text></g>
<g id="a276"><circle cx="731" cy="942"/><text x="731" y="942">FRMD3</text></g>
<g id="a277"><circle cx="603" cy="960"/><text x="603" y="960">ODAD4</text></g>
<g id="a278"><circle cx="502" cy="957"/><text x="502" y="957">PIP4K2A</text></g>
<g id="a279"><circle cx="729" cy="968"/><text x="729" y="968">MTCP1</text></g>
<g id="a280"><circle cx="785" cy="968"/><text x="785" y="968">TRH</text></g>
<g id="a281"><circle cx="472" cy="960"/><text x="472" y="960">RALGPS</text></g>
<g id="a282"><circle cx="512" cy="970"/><text x="512" y="970">KIAA1328</text></g>
<g id="a283"><circle cx="688" cy="975"/><text x="688" y="975">RPS6</text></g>
<g id="a284"><circle cx="562" cy="978"/><text x="562" y="978">LOC101102796</text></g>
<g id="a285"><circle cx="622" cy="986"/><text x="622" y="986">CMS1</text></g>
<g id="a286"><circle cx="607" cy="996"/><text x="607" y="996">NPFFR2</text></g>
<g id="a287"><circle cx="711" cy="1002"/><text x="711" y="1002">PIK3R1</text></g>
<g id="a288"><circle cx="509" cy="1012"/><text x="509" y="1012">HTR7</text></g>
<g id="a289"><circle cx="503" cy="999"/><text x="503" y="999">TACR2</text></g>
<g id="a290"><circle cx="558" cy="1003"/><text x="558" y="1003">SHISA5</text></g>
<g id="a291"><circle cx="678" cy="1007"/><text x="678" y="1007">ARB2A</text></g>
<g id="a292"><circle cx="450" cy="1006"/><text x="450" y="1006">PARD6G</text></g>
<g id="a293"><circle cx="747" cy="1017"/><text x="747" y="1017">FBXO32</text></g>
<g id="a294"><circle cx="575" cy="1019"/><text x="575" y="1019">PRKACA</text></g>
<g id="a295"><circle cx="543" cy="1028"/><text x="543" y="1028">DGKI</text></g>
<g id="a296"><circle cx="649" cy="1031"/><text x="649" y="1031">SORBS3</text></g>
<g id="a297"><circle cx="617" cy="1061"/><text x="617" y="1061">AGAP2</text></g>
<g id="a298"><circle cx="666" cy="1058"/><text x="666" y="1058">LOC101121563</text></g>
<g id="a299"><circle cx="707" cy="1067"/><text x="707" y="1067">WNT7A</text></g>
<g id="a300"><circle cx="535" cy="1081"/><text x="535" y="1081">SMC1A</text></g>
<g id="a301"><circle cx="579" cy="1107"/><text x="579" y="1107">STARL</text></g>
<g id="a302"><circle cx="602" cy="1099"/><text x="602" y="1099">SKP2</text></g>
<g id="a303"><circle cx="655" cy="1106"/><text x="655" y="1106">VANGL1</text></g>
<g id="a304"><circle cx="580" cy="1119"/><text x="580" y="1119">EGFR</text></g>
<g id="a305"><circle cx="713" cy="1113"/><text x="713" y="1113">FBP2</text></g>
<g id="a306"><circle cx="701" cy="1177"/><text x="701" y="1177">IL10RA</text></g>
<g id="a307"><circle cx="661" cy="532"/><text x="661" y="532">SLITRK4</text></g>
<g id="a308"><circle cx="687" cy="544"/><text x="687" y="544">SUFU</text></g>
<g id="a309"><circle cx="529" cy="544"/><text x="529" y="544">IGFBP3</text></g>
<g id="a310"><circle cx="629" cy="546"/><text x="629" y="546">MLST8</text></g>
<g id="a311"><circle cx="512" cy="559"/><text x="512" y="559">SLITRK2</text></g>
<g id="a312"><circle cx="561" cy="557"/><text x="561" y="557">SHOCA</text></g>
<g id="a313"><circle cx="614" cy="564"/><text x="614" y="564">EVC</text></g>
<g id="a314"><circle cx="567" cy="566"/><text x="567" y="566">P2RY1</text></g>
<g id="a315"><circle cx="594" cy="579"/><text x="594" y="579">TP53I3</text></g>
<g id="a316"><circle cx="527" cy="595"/><text x="527" y="595">CLIP4</text></g>
<g id="a317"><circle cx="543" cy="586"/><text x="543" y="586">TCL1B</text></g>
<g id="a318"><circle cx="641" cy="587"/><text x="641" y="587">CREB3L3</text></g>
<g id="a319"><circle cx="561" cy="610"/><text x="561" y="610">GNAL</text></g>
<g id="a320"><circle cx="592" cy="612"/><text x="592" y="612">ITPR3</text></g>
<g id="a321"><circle cx="470" cy="616"/><text x="470" y="616">LOC114118899</text></g>
<g id="a322"><circle cx="652" cy="630"/><text x="652" y="630">ADTRP</text></g>
<g id="a323"><circle cx="698" cy="631"/><text x="698" y="631">HSH2D</text></g>
<g id="a324"><circle cx="643" cy="650"/><text x="643" y="650">FGFR1</text></g>
<g id="a325"><circle cx="555" cy="654"/><text x="555" y="654">LOC101116525</text></g>
<g id="a326"><circle cx="597" cy="676"/><text x="597" y="676">SERPINB5</text></g>
<g id="a327"><circle cx="576" cy="664"/><text x="576" y="664">LOC114108610</text></g>
<g id="a328"><circle cx="442" cy="664"/><text x="442" y="664">CHRNA6</text></g>
<g id="a329"><circle cx="503" cy="677"/><text x="503" y="677">MET</text></g>
<g id="a330"><circle cx="536" cy="672"/><text x="536" y="672">MAPKAPK3</text></g>
<g id="a331"><circle cx="652" cy="695"/><text x="652" y="695">BCAS1</text></g>
<g id="a332"><circle cx="708" cy="694"/><text x="708" y="694">FDFT1</text></g>
<g id="a333"><circle cx="725" cy="686"/><text x="725" y="686">CHRNA1</text></g>
<g id="a334"><circle cx="565" cy="707"/><text x="565" y="707">TNR</text></g>
<g id="a335"><circle cx="734" cy="720"/><text x="734" y="720">EFNA3</text></g>
<g id="a336"><circle cx="450" cy="722"/><text x="450" y="722">ATP1A</text></g>
<g id="a337"><circle cx="465" cy="724"/><text x="465" y="724">YWHAZ</text></g>
<g id="a338"><circle cx="593" cy="724"/><text x="593" y="724">GRIK3</text></g>
<g id="a339"><circle cx="512" cy="733"/><text x="512" y="733">FGF5</text></g>
<g id="a340"><circle cx="637" cy="735"/><text x="637" y="735">GNAQ</text></g>
<g id="a341"><circle cx="709" cy="738"/><text x="709" y="738">LOC101117683</text></g>
<g id="a342"><circle cx="602" cy="760"/><text x="602" y="760">C6H4orf19</text></g>
<g id="a343"><circle cx="571" cy="763"/><text x="571" y="763">JAK3</text></g>
<g id="a344"><circle cx="539" cy="773"/><text x="539" y="773">CHRM3</text></g>
<g id="a345"><circle cx="456" cy="778"/><text x="456" y="778">CRYZL1</text></g>
<g id="a346"><circle cx="520" cy="788"/><text x="520" y="788">AOC1</text></g>
<g id="a347"><circle cx="656" cy="784"/><text x="656" y="784">DUSP5</text></g>
<g id="a348"><circle cx="616" cy="795"/><text x="616" y="795">OPRM1</text></g>
<g id="a349"><circle cx="729" cy="801"/><text x="729" y="801">CSNK1D</text></g>
<g id="a350"><circle cx="544" cy="818"/><text x="544" y="818">DBRAF</text></g>
<g id="a351"><circle cx="575" cy="824"/><text x="575" y="824">GRB10</text></g>
<g id="a352"><circle cx="630" cy="816"/><text x="630" y="816">ODC1</text></g>
<g id="a353"><circle cx="615" cy="819"/><text x="615" y="819">CTNNBIP1</text></g>
<g id="a354"><circle cx="657" cy="820"/><text x="657" y="820">FGF18</text></g>
<g id="a355"><circle cx="688" cy="817"/><text x="688" y="817">PLIN5</text></g>
<g id="a356"><circle cx="673" cy="836"/><text x="673" y="836">NR3C1</text></g>
<g id="a357"><circle cx="705" cy="838"/><text x="705" y="838">PLA2G4E</text></g>
<g id="a358"><circle cx="750" cy="831"/><text x="750" y="831">LRP5</text></g>
<g id="a359"><circle cx="732" cy="857"/><text x="732" y="857">LOC101119653</text></g>
<g id="a360"><circle cx="740" cy="863"/><text x="740" y="863">LOC101108352</text></g>
</g>
<g id="nodesB" class="b">
<g id="h214"><polygon points="2476,314 2512,329 2548,314 2512,364"/><text class="hl" x="2512" y="340">miR-214</text></g>
<g id="h320"><polygon points="1921,794 1957,806 1992,794 1957,845"/><text class="hl" x="1957" y="820">miR-320b</text></g>
<g id="h9b"><polygon points="2679,897 2713,911 2750,897 2713,948"/><text class="hl" x="2711" y="924">miR-9226-5p</text></g>
<g id="b1"><circle cx="2451" cy="65"/><text x="2451" y="65">RBFA</text></g>
<g id="b2"><circle cx="2536" cy="58"/><text x="2536" y="58">NR4A1</text></g>
<g id="b3"><circle cx="2375" cy="99"/><text x="2375" y="99">PPP2R1B</text></g>
<g id="b4"><circle cx="2488" cy="117"/><text x="2488" y="117">OPRK1</text></g>
<g id="b5"><circle cx="2548" cy="119"/><text x="2548" y="119">LOC101116461</text></g>
<g id="b6"><circle cx="2428" cy="129"/><text x="2428" y="129">TMED8</text></g>
<g id="b7"><circle cx="2323" cy="148"/><text x="2323" y="148">GRAP</text></g>
<g id="b8"><circle cx="2380" cy="171"/><text x="2380" y="171">ACSL5</text></g>
<g id="b9"><circle cx="2449" cy="184"/><text x="2449" y="184">PAK3</text></g>
<g id="b10"><circle cx="2504" cy="183"/><text x="2504" y="183">HTR4</text></g>
<g id="b11"><circle cx="2566" cy="175"/><text x="2566" y="175">GPR107</text></g>
<g id="b12"><circle cx="2280" cy="200"/><text x="2280" y="200">TACR2</text></g>
<g id="b13"><circle cx="2332" cy="226"/><text x="2332" y="226">ITPKA</text></g>
<g id="b14"><circle cx="2400" cy="230"/><text x="2400" y="230">SV2B</text></g>
<g id="b15"><circle cx="2469" cy="248"/><text x="2469" y="248">LAMA3</text></g>
<g id="b16"><circle cx="2536" cy="237"/><text x="2536" y="237">HTR1E</text></g>
<g id="b17"><circle cx="2257" cy="272"/><text x="2257" y="272">DUSP3</text></g>
<g id="b18"><circle cx="2364" cy="281"/><text x="2364" y="281">HSD17B7</text></g>
<g id="b19"><circle cx="2310" cy="298"/><text x="2310" y="298">CCDC68</text></g>
<g id="b20"><circle cx="2428" cy="297"/><text x="2428" y="297">DIP2B</text></g>
<g id="b21"><circle cx="2265" cy="346"/><text x="2265" y="346">ATP2A2</text></g>
<g id="b22"><circle cx="2388" cy="348"/><text x="2388" y="348">SMAD7</text></g>
<g id="b23"><circle cx="2331" cy="366"/><text x="2331" y="366">ADIPOQ</text></g>
<g id="b24"><circle cx="2282" cy="409"/><text x="2282" y="409">PARD6G</text></g>
<g id="b25"><circle cx="2436" cy="397"/><text x="2436" y="397">IL2RB</text></g>
<g id="b26"><circle cx="2370" cy="418"/><text x="2370" y="418">PRR5L</text></g>
<g id="b27"><circle cx="2318" cy="460"/><text x="2318" y="460">APC</text></g>
<g id="b28"><circle cx="2487" cy="449"/><text x="2487" y="449">FMNL2</text></g>
<g id="b29"><circle cx="2415" cy="466"/><text x="2415" y="466">CFAP119</text></g>
<g id="b30"><circle cx="2542" cy="415"/><text x="2542" y="415">GSK3B</text></g>
<g id="b31"><circle cx="2361" cy="502"/><text x="2361" y="502">AFDN</text></g>
<g id="b32"><circle cx="2572" cy="461"/><text x="2572" y="461">LOC114115739</text></g>
<g id="b33"><circle cx="2464" cy="505"/><text x="2464" y="505">RAPH1</text></g>
<g id="b34"><circle cx="2530" cy="510"/><text x="2530" y="510">RASGEF1C</text></g>
<g id="b35"><circle cx="2229" cy="522"/><text x="2229" y="522">PIK3AP1</text></g>
<g id="b36"><circle cx="2408" cy="546"/><text x="2408" y="546">RAPGEFL1</text></g>
<g id="b37"><circle cx="2473" cy="567"/><text x="2473" y="567">PPP3R2</text></g>
<g id="b38"><circle cx="2533" cy="577"/><text x="2533" y="577">PFKM</text></g>
<g id="b39"><circle cx="2270" cy="565"/><text x="2270" y="565">LOC121819715</text></g>
<g id="b40"><circle cx="2602" cy="92"/><text x="2602" y="92">MXRA8</text></g>
<g id="b41"><circle cx="2660" cy="100"/><text x="2660" y="100">AIG1</text></g>
<g id="b42"><circle cx="2623" cy="157"/><text x="2623" y="157">LOC106991782</text></g>
<g id="b43"><circle cx="2698" cy="147"/><text x="2698" y="147">FZD10</text></g>
<g id="b44"><circle cx="2663" cy="202"/><text x="2663" y="202">FRMD6</text></g>
<g id="b45"><circle cx="2743" cy="188"/><text x="2743" y="188">STIM2</text></g>
<g id="b46"><circle cx="2604" cy="224"/><text x="2604" y="224">SCARB1</text></g>
<g id="b47"><circle cx="2701" cy="245"/><text x="2701" y="245">TGOLN2</text></g>
<g id="b48"><circle cx="2774" cy="245"/><text x="2774" y="245">CPT2</text></g>
<g id="b49"><circle cx="2648" cy="274"/><text x="2648" y="274">CDC25B</text></g>
<g id="b50"><circle cx="2589" cy="286"/><text x="2589" y="286">PRKD1</text></g>
<g id="b51"><circle cx="2733" cy="296"/><text x="2733" y="296">HTR1A</text></g>
<g id="b52"><circle cx="2676" cy="329"/><text x="2676" y="329">PARD3B</text></g>
<g id="b53"><circle cx="2787" cy="323"/><text x="2787" y="323">EFCAB11</text></g>
<g id="b54"><circle cx="2612" cy="350"/><text x="2612" y="350">MTMR1</text></g>
<g id="b55"><circle cx="2729" cy="370"/><text x="2729" y="370">SENP2</text></g>
<g id="b56"><circle cx="2671" cy="387"/><text x="2671" y="387">MRAS</text></g>
<g id="b57"><circle cx="2787" cy="392"/><text x="2787" y="392">EPOR</text></g>
<g id="b58"><circle cx="2622" cy="422"/><text x="2622" y="422">SLC8A1</text></g>
<g id="b59"><circle cx="2698" cy="440"/><text x="2698" y="440">KYAT3</text></g>
<g id="b60"><circle cx="2755" cy="455"/><text x="2755" y="455">ADCY6</text></g>
<g id="b61"><circle cx="2647" cy="478"/><text x="2647" y="478">LOC101110852</text></g>
<g id="b62"><circle cx="2710" cy="513"/><text x="2710" y="513">ERBB2</text></g>
<g id="b63"><circle cx="2596" cy="512"/><text x="2596" y="512">PLA1A</text></g>
<g id="b64"><circle cx="2656" cy="548"/><text x="2656" y="548">ATP2A3</text></g>
<g id="b65"><circle cx="2595" cy="577"/><text x="2595" y="577">ACADM</text></g>
<g id="b66"><circle cx="1944" cy="592"/><text x="1944" y="592">ANAPC10</text></g>
<g id="b67"><circle cx="1873" cy="602"/><text x="1873" y="602">LOC114117869</text></g>
<g id="b68"><circle cx="2017" cy="617"/><text x="2017" y="617">LOC121819457</text></g>
<g id="b69"><circle cx="1813" cy="632"/><text x="1813" y="632">CCNB1</text></g>
<g id="b70"><circle cx="1904" cy="664"/><text x="1904" y="664">LOC114112908</text></g>
<g id="b71"><circle cx="1971" cy="661"/><text x="1971" y="661">LOC114117502</text></g>
<g id="b72"><circle cx="2075" cy="662"/><text x="2075" y="662">ANGPT1</text></g>
<g id="b73"><circle cx="1756" cy="671"/><text x="1756" y="671">SOAT2</text></g>
<g id="b74"><circle cx="1850" cy="691"/><text x="1850" y="691">LOC105614203</text></g>
<g id="b75"><circle cx="2023" cy="708"/><text x="2023" y="708">LOC121816087</text></g>
<g id="b76"><circle cx="1937" cy="724"/><text x="1937" y="724">TAMALIN</text></g>
<g id="b77"><circle cx="2122" cy="717"/><text x="2122" y="717">PTPN2</text></g>
<g id="b78"><circle cx="1795" cy="725"/><text x="1795" y="725">ZMYM4</text></g>
<g id="b79"><circle cx="1721" cy="736"/><text x="1721" y="736">DTWD2</text></g>
<g id="b80"><circle cx="1859" cy="759"/><text x="1859" y="759">SPOPL</text></g>
<g id="b81"><circle cx="2053" cy="770"/><text x="2053" y="770">SAAL1</text></g>
<g id="b82"><circle cx="2116" cy="786"/><text x="2116" y="786">PAK5</text></g>
<g id="b83"><circle cx="1774" cy="786"/><text x="1774" y="786">LOC101102796</text></g>
<g id="b84"><circle cx="1710" cy="807"/><text x="1710" y="807">KLHDC1</text></g>
<g id="b85"><circle cx="1831" cy="815"/><text x="1831" y="815">LOC114115342</text></g>
<g id="b86"><circle cx="2158" cy="828"/><text x="2158" y="828">PLAAT1</text></g>
<g id="b87"><circle cx="2070" cy="845"/><text x="2070" y="845">RRAGB</text></g>
<g id="b88"><circle cx="1769" cy="854"/><text x="1769" y="854">CHRNA7</text></g>
<g id="b89"><circle cx="1707" cy="876"/><text x="1707" y="876">ACMSD</text></g>
<g id="b90"><circle cx="1824" cy="881"/><text x="1824" y="881">CDK6</text></g>
<g id="b91"><circle cx="2129" cy="892"/><text x="2129" y="892">CASP9</text></g>
<g id="b92"><circle cx="1885" cy="893"/><text x="1885" y="893">CDC16</text></g>
<g id="b93"><circle cx="2044" cy="907"/><text x="2044" y="907">APAF1</text></g>
<g id="b94"><circle cx="1963" cy="915"/><text x="1963" y="915">CCNA1</text></g>
<g id="b95"><circle cx="1756" cy="924"/><text x="1756" y="924">DYDC1</text></g>
<g id="b96"><circle cx="2278" cy="926"/><text x="2278" y="926">SP1</text></g>
<g id="b97"><circle cx="1824" cy="945"/><text x="1824" y="945">MEGF8</text></g>
<g id="b98"><circle cx="2097" cy="954"/><text x="2097" y="954">SPDYA</text></g>
<g id="b99"><circle cx="1880" cy="969"/><text x="1880" y="969">RXRA</text></g>
<g id="b100"><circle cx="1941" cy="973"/><text x="1941" y="973">REL</text></g>
<g id="b101"><circle cx="2012" cy="966"/><text x="2012" y="966">MTMR6</text></g>
<g id="b102"><circle cx="1773" cy="991"/><text x="1773" y="991">LOC101108390</text></g>
<g id="b103"><circle cx="2038" cy="1020"/><text x="2038" y="1020">NPR1</text></g>
<g id="b104"><circle cx="1838" cy="1024"/><text x="1838" y="1024">OSMR</text></g>
<g id="b105"><circle cx="1970" cy="1039"/><text x="1970" y="1039">STAT1</text></g>
<g id="b106"><circle cx="1904" cy="1043"/><text x="1904" y="1043">EIF4E2</text></g>
<g id="b107"><circle cx="2422" cy="703"/><text x="2422" y="703">PLAAT3</text></g>
<g id="b108"><circle cx="2704" cy="738"/><text x="2704" y="738">FGF5</text></g>
<g id="b109"><circle cx="2776" cy="732"/><text x="2776" y="732">RPS6KA2</text></g>
<g id="b110"><circle cx="2627" cy="762"/><text x="2627" y="762">SLC9A1</text></g>
<g id="b111"><circle cx="2838" cy="764"/><text x="2838" y="764">TCL1B</text></g>
<g id="b112"><circle cx="2889" cy="801"/><text x="2889" y="801">NR3C1</text></g>
<g id="b113"><circle cx="2700" cy="804"/><text x="2700" y="804">LOC114115752</text></g>
<g id="b114"><circle cx="2772" cy="808"/><text x="2772" y="808">LOC101121753</text></g>
<g id="b115"><circle cx="2557" cy="833"/><text x="2557" y="833">ALDH16A1</text></g>
<g id="b116"><circle cx="2627" cy="833"/><text x="2627" y="833">RALGAPA2</text></g>
<g id="b117"><circle cx="2827" cy="846"/><text x="2827" y="846">RASGRP1</text></g>
<g id="b118"><circle cx="2925" cy="853"/><text x="2925" y="853">LOC121817058</text></g>
<g id="b119"><circle cx="2315" cy="877"/><text x="2315" y="877">STK4</text></g>
<g id="b120"><circle cx="2520" cy="900"/><text x="2520" y="900">EEIG2</text></g>
<g id="b121"><circle cx="2595" cy="897"/><text x="2595" y="897">MTMR14</text></g>
<g id="b122"><circle cx="2873" cy="899"/><text x="2873" y="899">RASGRF1</text></g>
<g id="b123"><circle cx="2812" cy="923"/><text x="2812" y="923">IL27RA</text></g>
<g id="b124"><circle cx="2945" cy="919"/><text x="2945" y="919">LOC101115413</text></g>
<g id="b125"><circle cx="2517" cy="969"/><text x="2517" y="969">INPP4A</text></g>
<g id="b126"><circle cx="2593" cy="964"/><text x="2593" y="964">LRP5</text></g>
<g id="b127"><circle cx="2883" cy="964"/><text x="2883" y="964">CCKAR</text></g>
<g id="b128"><circle cx="2946" cy="992"/><text x="2946" y="992">LOC101109111</text></g>
<g id="b129"><circle cx="2824" cy="994"/><text x="2824" y="994">ACSBG2</text></g>
<g id="b130"><circle cx="2654" cy="1014"/><text x="2654" y="1014">TNR</text></g>
<g id="b131"><circle cx="2583" cy="1029"/><text x="2583" y="1029">IL10RA</text></g>
<g id="b132"><circle cx="2518" cy="1038"/><text x="2518" y="1038">CCND2</text></g>
<g id="b133"><circle cx="2754" cy="1022"/><text x="2754" y="1022">IL12B</text></g>
<g id="b134"><circle cx="2897" cy="1034"/><text x="2897" y="1034">LOC101117786</text></g>
<g id="b135"><circle cx="2821" cy="1057"/><text x="2821" y="1057">MET</text></g>
<g id="b136"><circle cx="2702" cy="1061"/><text x="2702" y="1061">LOC101102411</text></g>
<g id="b137"><circle cx="2638" cy="1082"/><text x="2638" y="1082">EVC2</text></g>
<g id="b138"><circle cx="2762" cy="1094"/><text x="2762" y="1094">UTS2R</text></g>
<g id="b139"><circle cx="2876" cy="1096"/><text x="2876" y="1096">GUCY1A2</text></g>
<g id="b140"><circle cx="2569" cy="1099"/><text x="2569" y="1099">MC2R</text></g>
<g id="b141"><circle cx="2696" cy="1135"/><text x="2696" y="1135">IMMP2L</text></g>
<g id="b142"><circle cx="2822" cy="1130"/><text x="2822" y="1130">TTC28</text></g>
<g id="b143"><circle cx="2629" cy="1151"/><text x="2629" y="1151">NUDT6</text></g>
<g id="b144"><circle cx="2754" cy="1164"/><text x="2754" y="1164">EVC</text></g>
</g>
<g id="legend">
<polygon points="1432,84 1459,100 1486,84 1459,137"/>
<text class="lg" x="1525" y="127">miRNA</text>
<ellipse cx="1463" cy="213" rx="30.5" ry="25"/>
<text class="lg" x="1524" y="231">mRNA</text>
</g>
<text class="cap" x="750" y="1446">(<tspan>a</tspan>)</text>
<text class="cap" x="2417" y="1446">(<tspan>b</tspan>)</text>
</svg>
